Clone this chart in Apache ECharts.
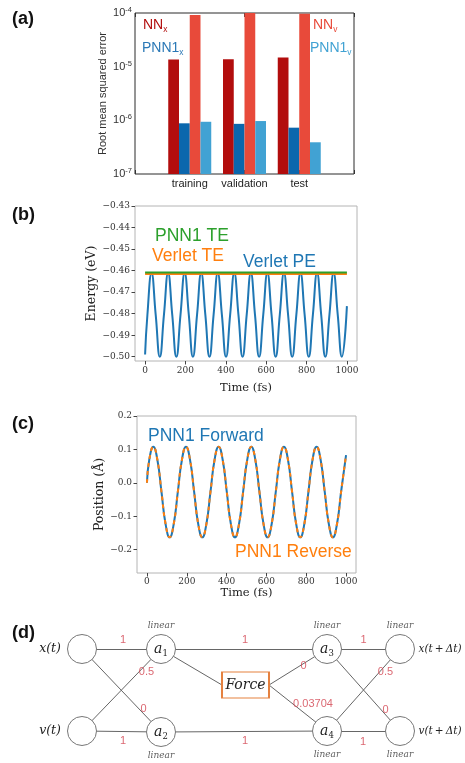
<!DOCTYPE html>
<html>
<head>
<meta charset="utf-8">
<script src="https://cdn.jsdelivr.net/npm/echarts@6/dist/echarts.min.js"></script>
<style>
  html, body { margin: 0; background: #fff; }
  #chart { width: 465px; height: 763px; }
</style>
</head>
<body>
<div id="chart"></div>
<script>
// ---- (a) RMSE bars
const groups = ['', 'training', 'validation', 'test', '']
const nnX = [null, 1.36e-5, 1.38e-5, 1.48e-5, null]
const pnnX = [null, 0.88e-6, 0.86e-6, 0.73e-6, null]
const nnV = [null, 0.92e-4, 1.0e-4, 0.97e-4, null]
const pnnV = [null, 0.94e-6, 0.97e-6, 0.39e-6, null]
const errDecades = [-7, -4] // 10^-7 .. 10^-4

// ---- (b) energy, (c) position, time in fs
const timeFs = [0, 11.5, 32, 52.5, 73, 93.5, 114, 134.5, 155, 175.5, 196, 216.5, 237, 257.5, 278, 298.5,
  319, 339.5, 360, 380.5, 401, 421.5, 442, 462.5, 483, 503.5, 524, 544.5, 565, 585.5, 606, 626.5,
  647, 667.5, 688, 708.5, 729, 749.5, 770, 790.5, 811, 831.5, 852, 872.5, 893, 913.5, 934, 954.5, 975, 1000]
const verletPE = [-0.499,
  -0.4805, -0.4612, -0.4805, -0.500, -0.4805, -0.4612, -0.4805, -0.500,
  -0.4805, -0.4612, -0.4805, -0.500, -0.4805, -0.4612, -0.4805, -0.500,
  -0.4805, -0.4612, -0.4805, -0.500, -0.4805, -0.4612, -0.4805, -0.500,
  -0.4805, -0.4612, -0.4805, -0.500, -0.4805, -0.4612, -0.4805, -0.500,
  -0.4805, -0.4612, -0.4805, -0.500, -0.4805, -0.4612, -0.4805, -0.500,
  -0.4805, -0.4612, -0.4805, -0.500, -0.4805, -0.4612, -0.4805, -0.500,
  -0.4765]
const teTime = [0, 1000]
const verletTE = [-0.4615, -0.4615]
const pnnTE = [-0.4609, -0.4609]
const position = [0.000,
  0.0683, 0.108, 0.0683, -0.0275, -0.1233, -0.163, -0.1233, -0.0275,
  0.0683, 0.108, 0.0683, -0.0275, -0.1233, -0.163, -0.1233, -0.0275,
  0.0683, 0.108, 0.0683, -0.0275, -0.1233, -0.163, -0.1233, -0.0275,
  0.0683, 0.108, 0.0683, -0.0275, -0.1233, -0.163, -0.1233, -0.0275,
  0.0683, 0.108, 0.0683, -0.0275, -0.1233, -0.163, -0.1233, -0.0275,
  0.0683, 0.108, 0.0683, -0.0275, -0.1233, -0.163, -0.1233, -0.0275,
  0.083]

// ---- (d) network
const nodeNames = ['x(t)', 'v(t)', 'a1', 'a2', 'Force', 'a3', 'a4', 'x(t\u2009+\u2009Δt)', 'v(t\u2009+\u2009Δt)']
const nodeX = [82, 82, 161, 161, 245.5, 327, 327, 400, 400]
const nodeY = [649, 731, 649, 732, 685, 649, 731, 649, 731]
const links = [
  ['x(t)', 'a1'], ['x(t)', 'a2'], ['v(t)', 'a1'], ['v(t)', 'a2'],
  ['a1', 'a3'], ['a1', 'Force<'], ['a2', 'a4'], ['Force>', 'a3'], ['Force>', 'a4'],
  ['a3', nodeNames[7]], ['a3', nodeNames[8]], ['a4', nodeNames[7]], ['a4', nodeNames[8]]
]
const linearTop = ['a1', 'a3', nodeNames[7]]
const linearBottom = ['a2', 'a4', nodeNames[8]]
const weightText = ['1', '0.5', '0', '1', '1', '0', '0.03704', '1', '1', '0.5', '0', '1']
const weightX = [123, 146.5, 143.5, 123, 245, 303.5, 313, 245, 363.5, 385.5, 385.5, 363]
const weightY = [640, 671.5, 708.5, 741, 640, 666, 703.5, 741, 640, 671.5, 710, 742]

const SANS = 'Liberation Sans, Arial, sans-serif'
const SERIF = 'DejaVu Serif, serif'
const C = { dred: '#b20d0d', lred: '#e84a3a', dblue: '#0b67ad', lblue: '#41a2d3',
  blue: '#1f77b4', orange: '#ff7f0e', green: '#2ca02c', wred: '#d2424f' }
const BOX = [47, 26]

const chart = echarts.init(document.getElementById('chart'))

const pair = (xs, ys) => xs.map((x, i) => [x, ys[i]])
const nodeIdx = name => nodeNames.indexOf(name)
const minus = s => s.replace('-', '\u2212')
// bars are drawn on a linear axis of decades above the 10^-7 floor
const decades = arr => arr.map(v => v == null ? null : Math.log10(v) - errDecades[0])

const sub = (base, s, color, size) => ({
  type: 'text', silent: true, z: 100,
  style: {
    text: `{b|${base}}{s|${s}}`,
    rich: {
      b: { fontFamily: SANS, fontSize: size, fill: color, lineHeight: size + 4, verticalAlign: 'middle' },
      s: { fontFamily: SANS, fontSize: size * 0.6, fill: color, lineHeight: size * 0.6, verticalAlign: 'bottom' }
    },
    verticalAlign: 'middle'
  }
})
const txt = (x, y, text, color, size, weight) => ({
  type: 'text', x, y, silent: true, z: 100,
  style: { text, fill: color, fontFamily: SANS, fontSize: size, fontWeight: weight || 'normal', verticalAlign: 'middle' }
})

const graphic = [
  txt(12, 19, '(a)', '#111', 18, 'bold'),
  txt(12, 215, '(b)', '#111', 18, 'bold'),
  txt(12, 424, '(c)', '#111', 18, 'bold'),
  txt(12, 633, '(d)', '#111', 18, 'bold'),
  Object.assign(sub('NN', 'x', C.dred, 14), { x: 143, y: 25 }),
  Object.assign(sub('PNN1', 'x', '#2a78b6', 14), { x: 142, y: 48 }),
  Object.assign(sub('NN', 'v', C.lred, 14), { x: 313, y: 25 }),
  Object.assign(sub('PNN1', 'v', C.lblue, 14), { x: 310, y: 48 }),
  txt(155, 236, 'PNN1 TE', C.green, 17.5),
  txt(152, 256, 'Verlet TE', C.orange, 17.5),
  txt(243, 262, 'Verlet PE', C.blue, 17.5),
  txt(148, 436, 'PNN1 Forward', C.blue, 17.5),
  txt(235, 552, 'PNN1 Reverse', C.orange, 17.5)
]

const frame = color => ({ show: true, borderColor: color, borderWidth: 1, backgroundColor: 'transparent' })

const timeAxis = (gridIndex, margin, gap) => ({
  type: 'value', gridIndex, min: -50, max: 1050, splitNumber: 6,
  splitLine: { show: false }, axisLine: { show: false, onZero: false },
  axisTick: { show: true, length: 3.5, lineStyle: { color: '#444' } },
  axisLabel: { margin, fontFamily: SERIF, fontSize: 9, color: '#333', showMinLabel: false, showMaxLabel: false,
    formatter: v => String(Math.round(v)) },
  name: 'Time (fs)', nameLocation: 'middle', nameGap: gap,
  nameTextStyle: { fontFamily: SERIF, fontSize: 11.5, color: '#222' }
})

const decadeAxis = (position, labels) => ({
  type: 'value', gridIndex: 0, position, min: 0, max: errDecades[1] - errDecades[0], interval: 1,
  splitLine: { show: false }, axisLine: { show: false, onZero: false },
  axisTick: { inside: true, length: 4, lineStyle: { color: '#333' } },
  axisLabel: labels ? { margin: 3, formatter: v => `{b|10}{s|${v + errDecades[0]}}`,
    rich: { b: { fontFamily: SANS, fontSize: 11, color: '#333', lineHeight: 14, verticalAlign: 'middle' },
            s: { fontFamily: SANS, fontSize: 7.5, color: '#333', lineHeight: 8, verticalAlign: 'top' } } } : { show: false },
  name: labels ? 'Root mean squared error' : '', nameLocation: 'middle', nameGap: 27,
  nameTextStyle: { fontFamily: SANS, fontSize: 11, color: '#333' }
})

const diagramNodes = nodeNames.map((name, i) => {
  const isBox = name === 'Force'
  const isIn = i < 2
  const isOut = i > 6
  let label = { show: false }
  if (name[0] === 'a') {
    label = { show: true, position: 'inside', formatter: `{a|a}{s|${name[1]}}`,
      rich: { a: { fontFamily: SERIF, fontStyle: 'italic', fontSize: 14, color: '#222', lineHeight: 18, verticalAlign: 'middle' },
              s: { fontFamily: SERIF, fontSize: 8.5, color: '#222', lineHeight: 10, verticalAlign: 'bottom' } } }
  } else if (isBox) {
    label = { show: true, position: 'inside', formatter: 'Force', fontFamily: SERIF, fontStyle: 'italic', fontSize: 14, color: '#222' }
  } else if (isIn || isOut) {
    label = { show: true, position: isIn ? 'left' : 'right', distance: isIn ? 6 : 3.5, formatter: name,
      fontFamily: SERIF, fontStyle: 'italic', fontSize: isIn ? 12.5 : 10.5, color: '#222' }
  }
  return {
    name, value: [nodeX[i], nodeY[i]],
    symbol: isBox ? 'rect' : 'circle', symbolSize: isBox ? BOX : 29,
    itemStyle: { color: '#fff', borderColor: isBox ? '#e5813f' : '#777', borderWidth: isBox ? 1.5 : 1 },
    label
  }
})
// anchor points at the middle of the Force box's left and right sides
const fi = nodeIdx('Force')
diagramNodes.push(
  { name: 'Force<', value: [nodeX[fi] - BOX[0] / 2, nodeY[fi]], symbolSize: 0.1, itemStyle: { color: 'transparent' }, label: { show: false } },
  { name: 'Force>', value: [nodeX[fi] + BOX[0] / 2, nodeY[fi]], symbolSize: 0.1, itemStyle: { color: 'transparent' }, label: { show: false } }
)

const linearPoints = (names, pos) => names.map(n => ({ name: 'linear', value: [nodeX[nodeIdx(n)], nodeY[nodeIdx(n)]],
  label: { position: pos } }))

const bar = (name, data, color) => ({ type: 'bar', name, xAxisIndex: 0, yAxisIndex: 0, data: decades(data),
  barWidth: 10.75, barGap: '0%', itemStyle: { color } })

const option = {
  animation: false,
  backgroundColor: '#fff',
  graphic,
  grid: [
    Object.assign({ left: 135, top: 13, width: 219, height: 161 }, frame('#2a2a2a')),
    Object.assign({ left: 135, top: 206, width: 222, height: 155 }, frame('#b4b4b4')),
    Object.assign({ left: 137, top: 416, width: 219, height: 157 }, frame('#b4b4b4')),
    { left: 0, top: 600, width: 465, height: 163, show: false }
  ],
  xAxis: [
    { type: 'category', gridIndex: 0, data: groups, boundaryGap: false,
      axisLine: { show: false, onZero: false }, axisTick: { inside: true, length: 4, lineStyle: { color: '#333' } },
      axisLabel: { interval: 0, margin: 4, fontFamily: SANS, fontSize: 11, color: '#222' } },
    { type: 'category', gridIndex: 0, position: 'top', data: groups, boundaryGap: false,
      axisLine: { show: false, onZero: false }, axisTick: { inside: true, length: 4, lineStyle: { color: '#333' } },
      axisLabel: { show: false } },
    timeAxis(1, 5, 21),
    timeAxis(2, 4, 14),
    { type: 'value', gridIndex: 3, min: 0, max: 465, show: false }
  ],
  yAxis: [
    decadeAxis('left', true),
    decadeAxis('right', false),
    { type: 'value', gridIndex: 1, min: -0.502, max: -0.43, splitNumber: 7,
      splitLine: { show: false }, axisLine: { show: false, onZero: false },
      axisTick: { length: 3.5, lineStyle: { color: '#444' } },
      axisLabel: { margin: 5, fontFamily: SERIF, fontSize: 9, color: '#333', showMinLabel: false,
        formatter: v => minus(v.toFixed(2)) },
      name: 'Energy (eV)', nameLocation: 'middle', nameGap: 37,
      nameTextStyle: { fontFamily: SERIF, fontSize: 12.5, color: '#222' } },
    { type: 'value', gridIndex: 2, min: -0.27, max: 0.2, splitNumber: 5,
      splitLine: { show: false }, axisLine: { show: false, onZero: false },
      axisTick: { length: 3.5, lineStyle: { color: '#444' } },
      axisLabel: { margin: 5, fontFamily: SERIF, fontSize: 9, color: '#333', showMinLabel: false,
        formatter: v => Math.abs(v) < 1e-9 ? '0.0' : minus(v.toFixed(1)) },
      name: 'Position (\u00c5)', nameLocation: 'middle', nameGap: 30,
      nameTextStyle: { fontFamily: SERIF, fontSize: 12.5, color: '#222' } },
    { type: 'value', gridIndex: 3, min: 600, max: 763, inverse: true, show: false }
  ],
  series: [
    bar('NNx', nnX, C.dred),
    bar('PNN1x', pnnX, C.dblue),
    bar('NNv', nnV, C.lred),
    bar('PNN1v', pnnV, C.lblue),

    { type: 'line', name: 'Verlet PE', xAxisIndex: 2, yAxisIndex: 2, data: pair(timeFs, verletPE),
      smooth: 0.5, showSymbol: false, lineStyle: { color: C.blue, width: 2 } },
    { type: 'line', name: 'Verlet TE', xAxisIndex: 2, yAxisIndex: 2, data: pair(teTime, verletTE),
      showSymbol: false, lineStyle: { color: C.orange, width: 2.2 } },
    { type: 'line', name: 'PNN1 TE', xAxisIndex: 2, yAxisIndex: 2, data: pair(teTime, pnnTE),
      showSymbol: false, lineStyle: { color: C.green, width: 2.2 } },

    { type: 'line', name: 'PNN1 Forward', xAxisIndex: 3, yAxisIndex: 3, data: pair(timeFs, position),
      smooth: 0.5, showSymbol: false, lineStyle: { color: C.blue, width: 2 } },
    { type: 'line', name: 'PNN1 Reverse', xAxisIndex: 3, yAxisIndex: 3, data: pair(timeFs, position),
      smooth: 0.5, showSymbol: false, lineStyle: { color: C.orange, width: 2, type: [4, 4] } },

    { type: 'graph', coordinateSystem: 'cartesian2d', xAxisIndex: 4, yAxisIndex: 4,
      layout: 'none', roam: false, data: diagramNodes,
      links: links.map(([source, target]) => ({ source, target })),
      lineStyle: { color: '#666', width: 1, opacity: 1, curveness: 0 },
      emphasis: { disabled: true } },
    { type: 'scatter', xAxisIndex: 4, yAxisIndex: 4, symbolSize: 0.1, itemStyle: { color: 'transparent' },
      data: linearPoints(linearTop, 'top').concat(linearPoints(linearBottom, 'bottom')),
      label: { show: true, formatter: '{b}', distance: 19, fontFamily: SERIF, fontStyle: 'italic', fontSize: 9, color: '#333' },
      silent: true, z: 5 },
    { type: 'scatter', xAxisIndex: 4, yAxisIndex: 4, symbolSize: 0.1, itemStyle: { color: 'transparent' },
      data: weightText.map((t, i) => ({ name: t, value: [weightX[i], weightY[i]] })),
      label: { show: true, position: 'inside', formatter: '{b}', fontFamily: SANS, fontSize: 11, color: C.wred },
      silent: true, z: 5 }
  ]
}

chart.setOption(option)
</script>
</body>
</html>
